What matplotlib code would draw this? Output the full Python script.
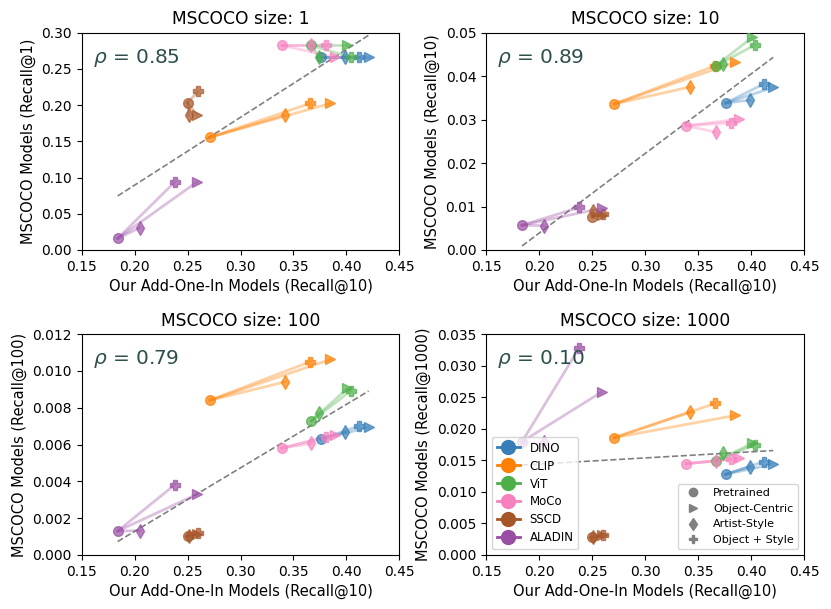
import numpy as np
import matplotlib
matplotlib.use("Agg")
import matplotlib.pyplot as plt
from matplotlib.lines import Line2D

# ---------------- data ----------------
models = ["DINO", "CLIP", "ViT", "MoCo", "SSCD", "ALADIN"]
variants = ["Pretrained", "Object-Centric", "Artist-Style", "Object + Style"]
colors = ["#377eb8", "#ff7f00", "#4daf4a", "#f781bf", "#a65628", "#984ea3"]

# x: Our Add-One-In Models (Recall@10), order = Pretrained, Object-Centric, Artist-Style, Object+Style
x_dino = [0.376, 0.421, 0.399, 0.412]
x_clip = [0.271, 0.385, 0.342, 0.366]
x_vit = [0.367, 0.401, 0.374, 0.404]
x_moco = [0.339, 0.389, 0.367, 0.381]
x_sscd = [0.250, 0.259, 0.251, 0.260]
x_aladin = [0.184, 0.259, 0.205, 0.238]

# MSCOCO size 1 (Recall@1)
y1_dino = [0.266, 0.266, 0.266, 0.266]
y1_clip = [0.1555, 0.2025, 0.1864, 0.2025]
y1_vit = [0.2826, 0.2826, 0.266, 0.266]
y1_moco = [0.2826, 0.266, 0.2826, 0.2826]
y1_sscd = [0.2034, 0.1864, 0.186, 0.219]
y1_aladin = [0.016, 0.094, 0.031, 0.094]

# MSCOCO size 10 (Recall@10)
y10_dino = [0.0338, 0.0374, 0.0345, 0.0382]
y10_clip = [0.0336, 0.0432, 0.0375, 0.0424]
y10_vit = [0.0424, 0.0489, 0.0427, 0.0472]
y10_moco = [0.0286, 0.0301, 0.0271, 0.0293]
y10_sscd = [0.0077, 0.0080, 0.0090, 0.0082]
y10_aladin = [0.0057, 0.0096, 0.0056, 0.0098]

# MSCOCO size 100 (Recall@100)
y100_dino = [0.0063, 0.00693, 0.00666, 0.0070]
y100_clip = [0.0084, 0.01062, 0.0094, 0.0105]
y100_vit = [0.00728, 0.00905, 0.00773, 0.0089]
y100_moco = [0.0058, 0.00652, 0.00606, 0.00643]
y100_sscd = [0.00101, 0.00112, 0.00105, 0.00118]
y100_aladin = [0.0013, 0.0033, 0.00132, 0.00382]

# MSCOCO size 1000 (Recall@1000)
y1000_dino = [0.01278, 0.0144, 0.0140, 0.01478]
y1000_clip = [0.01858, 0.0221, 0.0226, 0.0240]
y1000_vit = [0.0149, 0.01768, 0.0161, 0.0175]
y1000_moco = [0.01446, 0.0153, 0.0149, 0.01515]
y1000_sscd = [0.0028, 0.0031, 0.0029, 0.0032]
y1000_aladin = [0.01795, 0.0258, 0.01795, 0.0328]

sizes = ["1", "10", "100", "1000"]
rho_texts = ["0.85", "0.89", "0.79", "0.10"]
ylims = [(0, 0.30), (0, 0.05), (0, 0.012), (0, 0.035)]
yticks = [np.arange(0, 0.301, 0.05), np.arange(0, 0.0501, 0.01),
          np.arange(0, 0.01201, 0.002), np.arange(0, 0.03501, 0.005)]
ytickfmt = ["{:.2f}", "{:.2f}", "{:.3f}", "{:.3f}"]

xs = [x_dino, x_clip, x_vit, x_moco, x_sscd, x_aladin]
ys = [
    [y1_dino, y1_clip, y1_vit, y1_moco, y1_sscd, y1_aladin],
    [y10_dino, y10_clip, y10_vit, y10_moco, y10_sscd, y10_aladin],
    [y100_dino, y100_clip, y100_vit, y100_moco, y100_sscd, y100_aladin],
    [y1000_dino, y1000_clip, y1000_vit, y1000_moco, y1000_sscd, y1000_aladin],
]
markers = ["o", ">", "d", "P"]

# ---------------- figure ----------------
fig = plt.figure(figsize=(8.31, 6.09), dpi=100)
W, H = 831, 609
boxes = [(81.7, 32.7, 399.3, 250), (486, 32.7, 804, 250),
         (81.7, 334, 399.3, 555), (486, 334, 804, 555)]

axes = []
for k, (l, t, r, b) in enumerate(boxes):
    ax = fig.add_axes([l / W, 1 - b / H, (r - l) / W, (b - t) / H])
    axes.append(ax)
    allx, ally = [], []
    for m in range(len(models)):
        x = xs[m]
        y = ys[k][m]
        c = colors[m]
        for v in range(1, 4):
            ax.plot([x[0], x[v]], [y[0], y[v]], color=c, alpha=0.35, lw=2, zorder=2)
        for v in range(4):
            ax.plot(x[v], y[v], marker=markers[v], color=c, alpha=0.7,
                    markersize=7, ls="none", zorder=3)
        allx += x
        ally += y
    allx = np.array(allx)
    ally = np.array(ally)
    coef = np.polyfit(allx, ally, 1)
    xx = np.array([allx.min(), allx.max()])
    ax.plot(xx, np.polyval(coef, xx), ls="--", color="gray", lw=1.2, zorder=1)

    ax.set_xlim(0.15, 0.45)
    ax.set_ylim(*ylims[k])
    ax.set_xticks(np.arange(0.15, 0.4501, 0.05))
    ax.set_xticklabels(["{:.2f}".format(v) for v in np.arange(0.15, 0.4501, 0.05)])
    ax.set_yticks(yticks[k])
    ax.set_yticklabels([ytickfmt[k].format(v) for v in yticks[k]])
    ax.tick_params(labelsize=10)
    ax.set_title("MSCOCO size: " + sizes[k], fontsize=12.3)
    ax.set_xlabel("Our Add-One-In Models (Recall@10)", fontsize=10.5)
    ax.set_ylabel("MSCOCO Models (Recall@" + sizes[k] + ")", fontsize=10.5)
    ax.text(0.035, 0.885, r"$\rho$ = " + rho_texts[k], transform=ax.transAxes,
            fontsize=14.5, color="darkslategray", ha="left", va="center")

ax = axes[3]
h1 = [Line2D([0], [0], color=c, marker="o", markersize=10, lw=2) for c in colors]
leg1 = ax.legend(h1, models, loc="lower left", fontsize=8.5, framealpha=0.8,
                 labelspacing=0.42)
ax.add_artist(leg1)
h2 = [Line2D([0], [0], color="gray", marker=mk, markersize=6, ls="none") for mk in markers]
ax.legend(h2, variants, loc="lower right", fontsize=8, framealpha=0.8)

fig.savefig("out.png", dpi=100)
